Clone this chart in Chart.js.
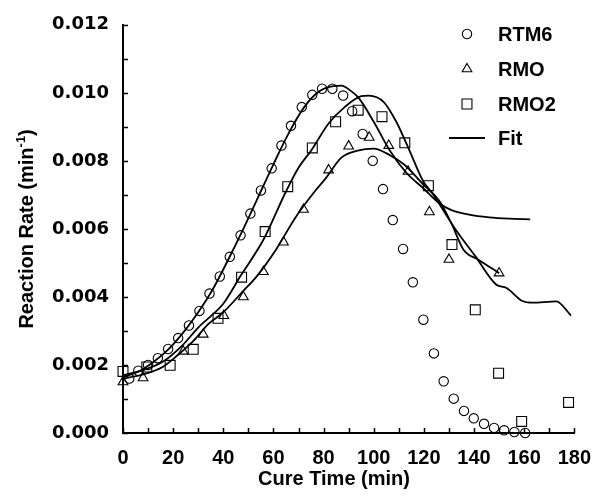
<!DOCTYPE html>
<html>
<head>
<meta charset="utf-8">
<script src="https://cdn.jsdelivr.net/npm/chart.js@4.4.1/dist/chart.umd.min.js"></script>
<style>
  html, body { margin: 0; padding: 0; background: #fff; }
</style>
</head>
<body>
<canvas id="chart" width="604" height="498"></canvas>
<script>
// Values
const rtm6Time = [2.5, 6.1, 10, 13.9, 18, 22, 26.3, 30.5, 34.5, 38.6, 42.6, 46.9, 50.8, 55, 59.3, 63.2, 67, 71.3, 75.5, 79.4,
  83.5, 87.8, 91.4, 95.6, 99.6, 103.7, 107.6, 111.7, 115.6, 119.8, 124, 127.9, 131.9, 136, 139.9, 144, 148, 152, 156.1, 160.4];
const rtm6Rate = [0.0016, 0.00183, 0.0020, 0.0022, 0.00247, 0.00279, 0.00316, 0.00359, 0.0041, 0.0046, 0.00518, 0.00581,
  0.00645, 0.00713, 0.00778, 0.00845, 0.00903, 0.00958, 0.00994, 0.01012, 0.01012, 0.00992, 0.00946, 0.00879, 0.0080,
  0.00717, 0.00626, 0.00541, 0.00443, 0.00333, 0.00234, 0.00152, 0.00101, 0.00065, 0.00043, 0.00027, 0.00015, 0.00008,
  0.00003, 0.0];

const rmoTime = [0, 8, 24, 32, 40.2, 48, 56, 64, 72, 82, 90, 98.2, 106, 113.7, 122.2, 130, 150];
const rmoRate = [0.0015, 0.00162, 0.0024, 0.0029, 0.00345, 0.004, 0.00474, 0.00561, 0.00657, 0.00773, 0.00843, 0.00869,
  0.00845, 0.00769, 0.0065, 0.0051, 0.0047];

const rmo2Time = [0, 9.5, 18.8, 28, 37.9, 47.3, 56.7, 65.7, 75.5, 84.8, 93.8, 103.3, 112.4, 121.8, 131.2, 140.5, 149.8, 159, 177.7];
const rmo2Rate = [0.00181, 0.00194, 0.00199, 0.00246, 0.00337, 0.00458, 0.00592, 0.00724, 0.00838, 0.00915, 0.00949, 0.0093,
  0.00853, 0.00727, 0.00554, 0.00362, 0.00176, 0.00034, 0.0009];

const fitRtm6Time = [0, 6, 12, 18, 24, 30, 36, 42, 48, 54, 60, 66, 72, 78, 84, 87, 91, 94, 100, 106.6, 113, 120, 126, 131, 138, 146, 154, 162.4];
const fitRtm6Rate = [0.00165, 0.0018, 0.00208, 0.00245, 0.00295, 0.00355, 0.00425, 0.0051, 0.006, 0.00695, 0.0079, 0.0088,
  0.00955, 0.01003, 0.0102, 0.01021, 0.01005, 0.00985, 0.00915, 0.00828, 0.00765, 0.00718, 0.00676, 0.00655, 0.00642,
  0.00634, 0.0063, 0.00628];

const fitRmo2Time = [0, 8, 16, 24, 30, 36, 40, 46.9, 56, 65, 70, 75, 82, 88.4, 95, 98, 104, 109, 114.4, 119.6, 123.5, 132.5,
  140.5, 148.9, 152.8, 159.3, 163.2, 172.8, 178.7];
const fitRmo2Rate = [0.0017, 0.00185, 0.0021, 0.0026, 0.0031, 0.0035, 0.0038, 0.00462, 0.00568, 0.0071, 0.0078, 0.0083, 0.0091,
  0.00958, 0.0099, 0.00992, 0.00973, 0.00915, 0.00828, 0.00742, 0.00703, 0.006, 0.0052, 0.00436, 0.00427, 0.00388, 0.00383,
  0.00387, 0.00345];

const fitRmoTime = [0, 8, 16, 22, 28, 34, 40, 47, 53.5, 61, 69, 77, 81, 87, 93.6, 100, 106.6, 112, 119.6, 126, 131, 135.8, 141.6, 150];
const fitRmoRate = [0.0016, 0.00172, 0.00195, 0.0023, 0.0027, 0.0032, 0.00355, 0.0041, 0.00462, 0.00539, 0.00636, 0.00715,
  0.0075, 0.00809, 0.0083, 0.00836, 0.00816, 0.0079, 0.00732, 0.00684, 0.00616, 0.00539, 0.0051, 0.0047];

const xTickLabels = [0, 20, 40, 60, 80, 100, 120, 140, 160, 180];
const yTickLabels = ["0.000", "0.002", "0.004", "0.006", "0.008", "0.010", "0.012"];
const legendLabels = ["RTM6", "RMO", "RMO2", "Fit"];

function toPoints(xs, ys) {
  return xs.map((x, i) => ({ x: x, y: ys[i] }));
}

function markerSet(label, xs, ys, style, radius) {
  return {
    label: label,
    data: toPoints(xs, ys),
    pointStyle: style,
    pointRadius: radius,
    pointBorderWidth: 1.1,
    pointBorderColor: "#000",
    pointBackgroundColor: "rgba(0,0,0,0)",
    showLine: false,
    clip: false,
  };
}

function fitSet(xs, ys) {
  return {
    label: "Fit",
    data: toPoints(xs, ys),
    showLine: true,
    pointRadius: 0,
    borderColor: "#000",
    borderWidth: 1.8,
    cubicInterpolationMode: "monotone",
    clip: false,
  };
}

// inward tick marks on both axes
const innerTicks = {
  id: "innerTicks",
  afterDraw(chart) {
    const ctx = chart.ctx;
    const xs = chart.scales.x;
    const ys = chart.scales.y;
    const area = chart.chartArea;
    ctx.save();
    ctx.strokeStyle = "#000";
    ctx.lineWidth = 1.5;
    ctx.beginPath();
    xs.ticks.forEach((t) => {
      const px = Math.round(xs.getPixelForValue(t.value)) + 0.5;
      ctx.moveTo(px, area.bottom);
      ctx.lineTo(px, area.bottom - 5);
    });
    ys.ticks.forEach((t) => {
      const py = Math.round(ys.getPixelForValue(t.value)) + 0.5;
      ctx.moveTo(area.left, py);
      ctx.lineTo(area.left + 5, py);
    });
    ctx.stroke();
    ctx.restore();
  },
};

// axis titles (y title carries a superscript)
const axisTitles = {
  id: "axisTitles",
  afterDraw(chart) {
    const ctx = chart.ctx;
    const area = chart.chartArea;
    ctx.save();
    ctx.fillStyle = "#000";
    ctx.textBaseline = "alphabetic";

    ctx.font = 'bold 20px "Liberation Sans", Arial, sans-serif';
    ctx.textAlign = "center";
    ctx.fillText("Cure Time (min)", 334, 485);

    ctx.translate(33, (area.top + area.bottom) / 2);
    ctx.rotate(-Math.PI / 2);
    ctx.textAlign = "left";
    const main = "Reaction Rate (min";
    const sup = "-1";
    const close = ")";
    ctx.font = 'bold 20px "Liberation Sans", Arial, sans-serif';
    const w1 = ctx.measureText(main).width;
    const w3 = ctx.measureText(close).width;
    ctx.font = 'bold 13px "Liberation Sans", Arial, sans-serif';
    const w2 = ctx.measureText(sup).width;
    let x = -(w1 + w2 + w3) / 2;
    ctx.font = 'bold 20px "Liberation Sans", Arial, sans-serif';
    ctx.fillText(main, x, 0);
    x += w1;
    ctx.font = 'bold 13px "Liberation Sans", Arial, sans-serif';
    ctx.fillText(sup, x, -8);
    x += w2;
    ctx.font = 'bold 20px "Liberation Sans", Arial, sans-serif';
    ctx.fillText(close, x, 0);
    ctx.restore();
  },
};

// legend in the top right corner
const cornerLegend = {
  id: "cornerLegend",
  afterDraw(chart) {
    const ctx = chart.ctx;
    const rows = [34, 69, 104, 138];
    const markX = 467;
    const textX = 498;
    ctx.save();
    ctx.font = 'bold 20px "Liberation Sans", Arial, sans-serif';
    ctx.textAlign = "left";
    ctx.textBaseline = "middle";
    legendLabels.forEach((label, i) => {
      const y = rows[i];
      const ds = chart.data.datasets[i];
      if (ds.showLine) {
        ctx.strokeStyle = "#000";
        ctx.lineWidth = 2;
        ctx.beginPath();
        ctx.moveTo(449, y);
        ctx.lineTo(485, y);
        ctx.stroke();
      } else {
        ctx.strokeStyle = "#000";
        ctx.fillStyle = "rgba(0,0,0,0)";
        ctx.lineWidth = 1.1;
        Chart.helpers.drawPoint(ctx, {
          pointStyle: ds.pointStyle,
          radius: ds.pointRadius,
          rotation: 0,
          borderWidth: 1.1,
        }, markX, y);
      }
      ctx.fillStyle = "#000";
      ctx.fillText(label, textX, y + 1);
    });
    ctx.restore();
  },
};

const ctx = document.getElementById("chart").getContext("2d");

new Chart(ctx, {
  type: "scatter",
  data: {
    datasets: [
      markerSet("RTM6", rtm6Time, rtm6Rate, "circle", 4.7),
      markerSet("RMO", rmoTime, rmoRate, "triangle", 5.6),
      markerSet("RMO2", rmo2Time, rmo2Rate, "rect", 7),
      fitSet(fitRtm6Time, fitRtm6Rate),
      fitSet(fitRmo2Time, fitRmo2Rate),
      fitSet(fitRmoTime, fitRmoRate),
    ],
  },
  options: {
    responsive: false,
    animation: false,
    devicePixelRatio: 1,
    layout: { padding: { top: 18, right: 19, left: 0, bottom: 0 } },
    plugins: {
      legend: { display: false },
      tooltip: { enabled: false },
    },
    scales: {
      x: {
        type: "linear",
        min: 0,
        max: 180,
        grid: { display: false, drawTicks: false },
        border: { display: true, color: "#000", width: 2 },
        ticks: {
          stepSize: 10,
          autoSkip: false,
          maxRotation: 0,
          padding: 13,
          color: "#000",
          font: { family: '"Liberation Sans", Arial, sans-serif', size: 20, weight: "bold" },
          callback: (v) => (xTickLabels.includes(v) ? String(v) : ""),
        },
        afterFit: (s) => { s.height = 65; },
      },
      y: {
        min: 0,
        max: 0.012,
        grid: { display: false, drawTicks: false },
        border: { display: true, color: "#000", width: 2 },
        ticks: {
          stepSize: 0.001,
          autoSkip: false,
          padding: 14,
          color: "#000",
          font: { family: '"DejaVu Sans", sans-serif', size: 18, weight: "bold" },
          callback: (v) => {
            const label = v.toFixed(3);
            return yTickLabels.includes(label) ? label : "";
          },
        },
        afterFit: (s) => { s.width = 123; },
      },
    },
  },
  plugins: [innerTicks, axisTitles, cornerLegend],
});
</script>
</body>
</html>
